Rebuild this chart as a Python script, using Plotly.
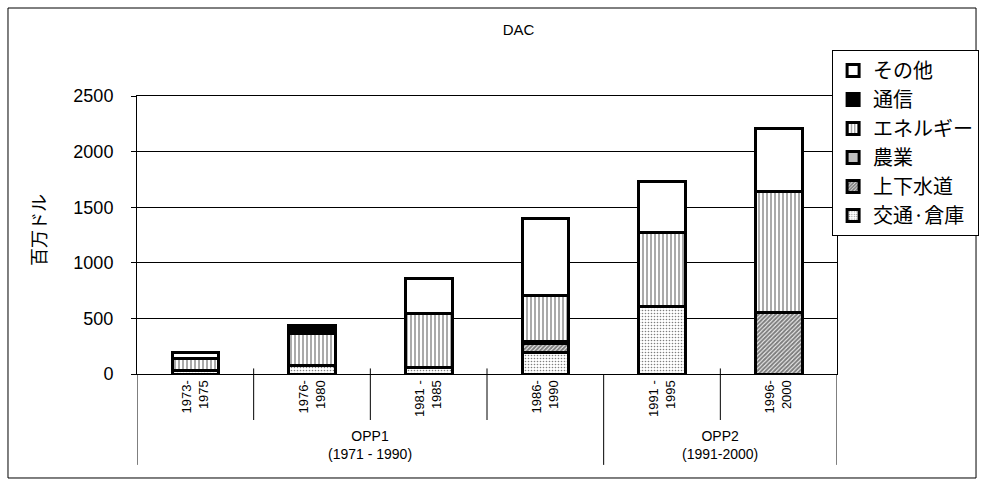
import plotly.graph_objects as go

# Five-year periods (x categories) and their plan groups
periods = ["1973-<br>1975", "1976-<br>1980", "1981 -<br>1985",
           "1986-<br>1990", "1991 -<br>1995", "1996-<br>2000"]
groups = ["OPP1<br>(1971 - 1990)", "OPP2<br>(1991-2000)"]
group_centers = [1.5, 4.5]

# Sector amounts, million USD (None = no amount in that period)
transport = [35, 75, 60, 190, 605, None]      # 交通・倉庫
water = [None, None, None, 80, None, 550]     # 上下水道
agri = [None, None, None, 25, None, None]     # 農業
energy = [100, 290, 480, 410, 670, 1095]      # エネルギー
comm = [None, 75, None, None, None, None]     # 通信
other = [60, None, 320, 695, 460, 565]        # その他

x = list(range(len(periods)))

BASE = "Liberation Sans, Arial, Noto Sans CJK JP"
JP = "Noto Sans CJK JP, Liberation Sans"

series = [
    ("交通·倉庫", transport, dict(color="white", pattern=dict(shape=".", fgcolor="black", bgcolor="white", size=3, solidity=0.22))),
    ("上下水道", water, dict(color="white", pattern=dict(shape="/", fgcolor="black", bgcolor="white", size=3, solidity=0.7))),
    ("農業", agri, dict(color="#c0c0c0")),
    ("エネルギー", energy, dict(color="white", pattern=dict(shape="|", fgcolor="#555555", bgcolor="white", size=4, solidity=0.5))),
    ("通信", comm, dict(color="black")),
    ("その他", other, dict(color="white")),
]

fig = go.Figure()
for name, vals, mk in series:
    mk = dict(mk)
    mk["line"] = dict(color="black", width=3)
    fig.add_trace(go.Bar(name=name, x=x, y=vals, marker=mk))

shapes = []
# outer frame of the whole chart
shapes.append(dict(type="rect", xref="paper", yref="paper",
                   x0=-0.1843, x1=1.1986, y0=-0.3741, y1=1.3165,
                   line=dict(color="black", width=1)))
# separators below the category axis
for xv in [0.5, 1.5, 2.5, 4.5]:
    shapes.append(dict(type="line", xref="x", yref="paper", x0=xv, x1=xv,
                       y0=0.02, y1=-0.1655, line=dict(color="black", width=1)))
for xv in [-0.5, 3.5, 5.5]:
    shapes.append(dict(type="line", xref="x", yref="paper", x0=xv, x1=xv,
                       y0=0.0, y1=-0.327, line=dict(color="black", width=1)))

annotations = []
for gname, gx in zip(groups, group_centers):
    annotations.append(dict(text=gname, x=gx, xref="x", y=-0.255, yref="paper",
                            showarrow=False, yanchor="middle",
                            font=dict(family="Liberation Sans Narrow, Liberation Sans", size=14, color="black")))
annotations.append(dict(text="百万ドル", textangle=-90, x=-0.1414, xref="paper",
                        xanchor="center", y=0.518, yref="paper", yanchor="middle",
                        showarrow=False, font=dict(family=JP, size=18, color="black")))

fig.update_layout(
    width=984, height=485,
    margin=dict(l=137, r=147, t=96, b=111, autoexpand=False),
    paper_bgcolor="white", plot_bgcolor="white",
    barmode="stack", bargap=0.6,
    title=dict(text="DAC", x=0.527, xanchor="center", y=1 - 30 / 485, yanchor="middle",
               font=dict(family=BASE, size=15, color="black")),
    font=dict(family=BASE, color="black"),
    xaxis=dict(range=[-0.5, 5.5], tickvals=x, ticktext=periods, tickangle=-90,
               ticks="", showgrid=False, showline=True, linecolor="black", linewidth=1,
               mirror=True, tickfont=dict(family=BASE, size=13, color="black"), zeroline=False),
    yaxis=dict(range=[0, 2500], tickvals=[0, 500, 1000, 1500, 2000, 2500], showgrid=True,
               gridcolor="black", gridwidth=1, showline=True, linecolor="black", linewidth=1,
               mirror=True, ticks="outside", ticklen=5, tickcolor="black",
               ticklabelstandoff=14, tickfont=dict(family=BASE, size=18, color="black"),
               zeroline=False),
    legend=dict(x=0.993, xanchor="left", y=1.1655, yanchor="top", traceorder="reversed",
                bordercolor="black", borderwidth=1, bgcolor="white",
                font=dict(family=JP, size=20, color="black")),
    shapes=shapes, annotations=annotations,
)

fig.write_html("out.html")
